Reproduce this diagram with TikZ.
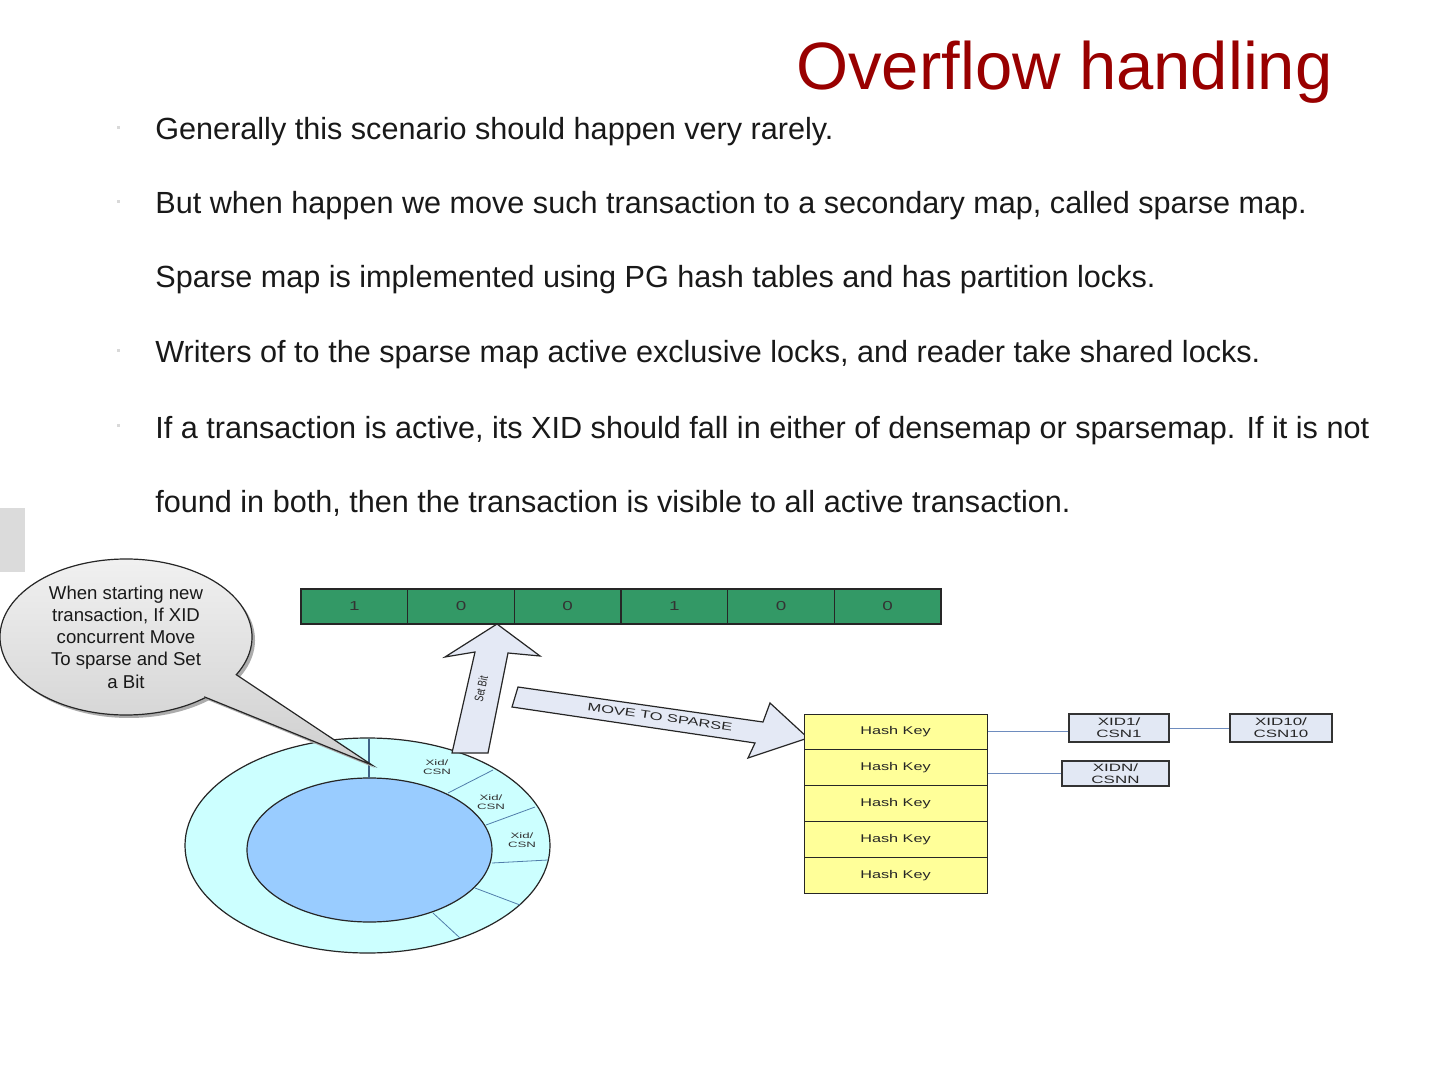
\documentclass[tikz,border=0pt]{standalone}
\usepackage{fontspec}
\setmainfont{Liberation Sans}
\usetikzlibrary{shapes.geometric,calc}
\definecolor{titlered}{RGB}{153,0,0}
\definecolor{bodytxt}{RGB}{25,25,25}
\definecolor{bitgreen}{RGB}{51,153,102}
\definecolor{hashyellow}{RGB}{255,255,153}
\definecolor{ringout}{RGB}{204,255,255}
\definecolor{ringin}{RGB}{153,204,255}
\definecolor{arrowfill}{RGB}{228,233,245}
\definecolor{boxfill}{RGB}{226,232,244}
\definecolor{linkblue}{RGB}{110,140,190}
\definecolor{segblue}{RGB}{80,125,170}
\newcommand{\wide}[1]{\scalebox{1.45}[1]{#1}}
\tikzset{
  bodytext/.style={anchor=base west, inner sep=0pt, text=bodytxt, font=\fontsize{15.3}{18}\selectfont},
  bulletdot/.style={fill=gray!30, draw=none, minimum size=1.5pt, inner sep=0pt},
  bitcell/.style={draw=black!85, line width=0.6pt, fill=bitgreen, minimum width=53.33pt, minimum height=17.5pt, inner sep=0pt, font=\fontsize{6.5}{7}\selectfont, text=black!80},
  hashrow/.style={draw=black!85, line width=0.5pt, fill=hashyellow, minimum width=91.5pt, minimum height=17.9pt, inner sep=0pt, font=\fontsize{5.6}{6}\selectfont, text=black!85},
  xidbox/.style={draw=black!80, line width=0.6pt, fill=boxfill, inner sep=0pt, align=center, font=\fontsize{5.3}{5.8}\selectfont, text=black!85},
  blockarrow/.style={draw=black!85, line width=0.6pt, fill=arrowfill},
  link/.style={draw=linkblue, line width=0.5pt},
  seg/.style={draw=segblue, line width=0.4pt},
  smalllbl/.style={inner sep=0pt, font=\fontsize{3.9}{4.4}\selectfont, align=center, text=black!80},
}
\begin{document}
\begin{tikzpicture}[x=0.5pt,y=-0.5pt]
\useasboundingbox (0,0) rectangle (1440,1080);
\fill[white] (0,0) rectangle (1440,1080);

% title
\node[anchor=base east, inner sep=0pt, text=titlered, font=\fontsize{33.5}{40}\selectfont] (title) at (1333,90) {Overflow handling};

% body text
\node[bulletdot] (b1) at (118,128) {};
\node[bulletdot] (b2) at (118,202) {};
\node[bulletdot] (b4) at (118,351) {};
\node[bulletdot] (b5) at (118,426) {};
\node[bodytext] (t1) at (155,140) {Generally this scenario should happen very rarely.};
\node[bodytext] (t2) at (155,214) {But when happen we move such transaction to a secondary map, called sparse map.};
\node[bodytext] (t3) at (155,288) {Sparse map is implemented using PG hash tables and has partition locks.};
\node[bodytext] (t4) at (155,363) {Writers of to the sparse map active exclusive locks, and reader take shared locks.};
\node[bodytext] (t5) at (155,438) {If a transaction is active, its XID should fall in either of densemap or sparsemap. If it is not};
\node[bodytext] (t6) at (155,512) {found in both, then the transaction is visible to all active transaction.};

% left grey tab
\fill[gray!28] (0,508) rectangle (25,572);

% ring
\draw[black!85, line width=0.6pt, fill=ringout] (367.5,845.5) ellipse [x radius=182.5, y radius=107.5];
\draw[seg] (448,793) -- (493,770);
\draw[seg] (486,825) -- (535,807);
\draw[seg] (492,863) -- (548,860);
\draw[seg] (475,888) -- (520,905);
\draw[seg] (433,913) -- (460,938);
\draw[black!85, line width=0.6pt, fill=ringin] (369.5,850) ellipse [x radius=122.5, y radius=72];
\draw[segblue!80!black, line width=0.7pt] (369,739) -- (369,778);
\node[smalllbl, xscale=1.7] (s1) at (437,767) {Xid/\\CSN};
\node[smalllbl, xscale=1.7] (s2) at (491,802) {Xid/\\CSN};
\node[smalllbl, xscale=1.7] (s3) at (522,840) {Xid/\\CSN};

% callout
\fill[gray!65] ($(205.6,697.4)+(3,3)$) -- (375,768) -- ($(236.3,674.7)+(3,3)$) arc[start angle=28.9, end angle=-309.2, x radius=126, y radius=78] -- cycle;
\draw[black!85, line width=0.6pt, top color=gray!10, bottom color=gray!38] (205.6,697.4) -- (372,765) -- (236.3,674.7) arc[start angle=28.9, end angle=-309.2, x radius=126, y radius=78] -- cycle;
\node[inner sep=0pt, align=center, text=black!90, font=\fontsize{9.3}{11.15}\selectfont] (callout) at (126,637) {When starting new\\transaction, If XID\\concurrent Move\\To sparse and Set\\a Bit};

% bit array
\node[bitcell] (c1) at (354.3,606.5) {\wide{1}};
\node[bitcell] (c2) at (461,606.5) {\wide{0}};
\node[bitcell] (c3) at (567.7,606.5) {\wide{0}};
\node[bitcell] (c4) at (674.3,606.5) {\wide{1}};
\node[bitcell] (c5) at (781,606.5) {\wide{0}};
\node[bitcell] (c6) at (887.7,606.5) {\wide{0}};

% set bit arrow
\draw[blockarrow] (452,753) -- (475,652) -- (445,657) -- (497,624) -- (540,656) -- (508,653) -- (488,753) -- cycle;
\node[inner sep=0pt, rotate=78, font=\fontsize{6.2}{6.5}\selectfont, text=black!85] (setbit) at (481,689) {\scalebox{0.72}[1]{Set Bit}};

% move to sparse arrow
\draw[blockarrow] (518,687) -- (763,722) -- (770,703) -- (808,738) -- (748,758) -- (755,743) -- (512,707) -- cycle;
\node[inner sep=0pt, rotate=-8.2, font=\fontsize{5.5}{6}\selectfont, text=black!85] (movelbl) at (660,717) {\scalebox{1.5}[1]{MOVE TO SPARSE}};

% hash table
\node[hashrow] (h1) at (895.5,731.9) {\wide{Hash Key}};
\node[hashrow] (h2) at (895.5,767.7) {\wide{Hash Key}};
\node[hashrow] (h3) at (895.5,803.5) {\wide{Hash Key}};
\node[hashrow] (h4) at (895.5,839.3) {\wide{Hash Key}};
\node[hashrow] (h5) at (895.5,875.1) {\wide{Hash Key}};

% xid boxes
\node[xidbox, minimum width=50pt, minimum height=14pt] (x1) at (1119,728) {\scalebox{1.6}[1]{XID1/}\\\scalebox{1.6}[1]{CSN1}};
\node[xidbox, minimum width=51pt, minimum height=14pt] (x10) at (1281,728) {\scalebox{1.6}[1]{XID10/}\\\scalebox{1.6}[1]{CSN10}};
\node[xidbox, minimum width=53.5pt, minimum height=12.5pt] (xn) at (1115.5,773.5) {\scalebox{1.6}[1]{XIDN/}\\\scalebox{1.6}[1]{CSNN}};

% links
\draw[link] (h1.east) -- (h1.east -| x1.west);
\draw[link] (x1.east) -- (x10.west);
\draw[link] (xn.west -| h2.east) -- (xn.west);
\end{tikzpicture}
\end{document}
